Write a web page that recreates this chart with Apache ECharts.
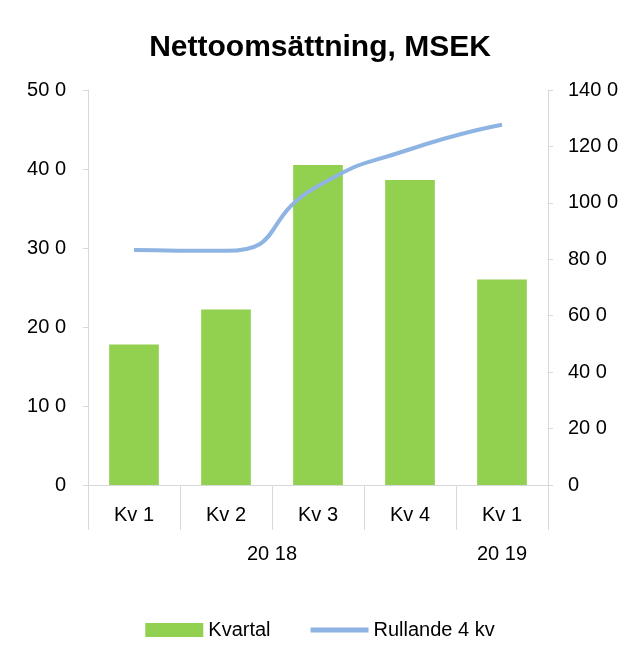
<!DOCTYPE html>
<html>
<head>
<meta charset="utf-8">
<title>Nettoomsättning</title>
<script src="https://cdn.jsdelivr.net/npm/echarts@6/dist/echarts.min.js"></script>
<style>html,body{margin:0;background:#fff}</style>
</head>
<body>
<div id="main" style="width:640px;height:671px;"></div>
<script>
var quarters = ['Kv 1', 'Kv 2', 'Kv 3', 'Kv 4', 'Kv 1'];
var kvartal = [178, 222, 405, 386, 260];
var rullande = [833, 830, 1060, 1190, 1277];
var leftTicks = {0: '0', 100: '10 0', 200: '20 0', 300: '30 0', 400: '40 0', 500: '50 0'};
var rightTicks = {0: '0', 200: '20 0', 400: '40 0', 600: '60 0', 800: '80 0', 1000: '100 0', 1200: '120 0', 1400: '140 0'};
var years = {2: '20 18', 4.5: '20 19'};

var font = 'Liberation Sans, Arial, sans-serif';
var chart = echarts.init(document.getElementById('main'));
chart.setOption({
  animation: false,
  title: { text: 'Nettoomsättning, MSEK', left: 'center', top: 28,
    textStyle: { fontFamily: font, fontSize: 30, fontWeight: 'bold', color: '#000' } },
  legend: { bottom: 26, itemGap: 40, itemWidth: 58, itemHeight: 14,
    textStyle: { fontFamily: font, fontSize: 20, color: '#000' },
    data: [{ name: 'Kvartal', icon: 'rect' },
           { name: 'Rullande 4 kv', icon: 'path://M0,0L58,0L58,5L0,5Z' }] },
  grid: { left: 88, right: 92, top: 90, bottom: 186 },
  xAxis: [{
    type: 'category', data: quarters, position: 'bottom',
    axisLine: { show: true, lineStyle: { color: '#d9d9d9' } },
    axisTick: { show: true, interval: 0, length: 45, lineStyle: { color: '#d9d9d9' } },
    axisLabel: { fontFamily: font, fontSize: 20, color: '#000', margin: 20 }
  }, {
    type: 'value', min: 0, max: 5, position: 'bottom', offset: 45,
    axisLine: { show: true, lineStyle: { color: '#d9d9d9', opacity: 0 } },
    axisTick: { show: true, length: 42, customValues: [0, 4, 5], lineStyle: { color: '#d9d9d9' } },
    axisLabel: { fontFamily: font, fontSize: 20, color: '#000', margin: 14,
      customValues: [2, 4.5], formatter: function (v) { return years[v] || ''; } },
    splitLine: { show: false }
  }],
  yAxis: [{
    type: 'value', min: 0, max: 500, interval: 100,
    axisLine: { show: true, lineStyle: { color: '#d9d9d9' } },
    axisLabel: { fontFamily: font, fontSize: 20, color: '#000', margin: 22,
      formatter: function (v) { return leftTicks[v]; } },
    splitLine: { show: false }
  }, {
    type: 'value', min: 0, max: 1400, interval: 200,
    axisLine: { show: true, lineStyle: { color: '#d9d9d9' } },
    axisLabel: { fontFamily: font, fontSize: 20, color: '#000', margin: 20,
      formatter: function (v) { return rightTicks[v]; } },
    splitLine: { show: false }
  }],
  series: [{
    name: 'Kvartal', type: 'bar', data: kvartal, barWidth: '54%',
    itemStyle: { color: '#92d050' }
  }, {
    name: 'Rullande 4 kv', type: 'line', yAxisIndex: 1, data: rullande,
    smooth: 0.6, symbol: 'none',
    lineStyle: { color: '#8eb4e3', width: 4 }, itemStyle: { color: '#8eb4e3' }
  }]
});
</script>
</body>
</html>
